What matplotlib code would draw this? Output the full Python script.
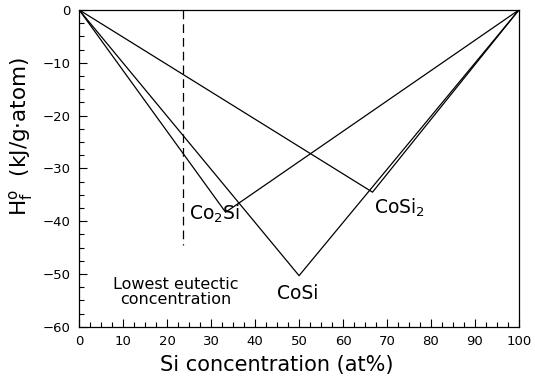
import matplotlib
matplotlib.use("Agg")
import matplotlib.pyplot as plt
from matplotlib.ticker import MultipleLocator

# Enthalpy of formation of cobalt silicides vs. Si content
compounds = ["Co$_2$Si", "CoSi", "CoSi$_2$"]
compound_si = [33.3, 50.0, 66.7]
compound_h = [-38.3, -50.3, -34.5]
eutectic_si = 23.6
eutectic_top, eutectic_bottom = 0, -44.5

plt.rcParams["font.family"] = ["DejaVu Sans"]
fig = plt.figure(figsize=(5.35, 3.81), dpi=100)
ax = fig.add_axes([0.148, 0.142, 0.822, 0.832])

# each compound is joined to the pure elements (0 and 100 at.% Si)
for x, h in zip(compound_si, compound_h):
    ax.plot([0, x, 100], [0, h, 0], color="black", lw=0.9)

ax.plot([eutectic_si, eutectic_si], [eutectic_top, eutectic_bottom],
        color="black", lw=0.9, ls=(0, (7, 4)))

ax.text(25.0, -38.6, compounds[0], fontsize=13.5, va="center", ha="left")
ax.text(49.8, -53.6, compounds[1], fontsize=13.5, va="center", ha="center")
ax.text(67.0, -37.5, compounds[2], fontsize=13.5, va="center", ha="left")
ax.text(22.0, -53.3, "Lowest eutectic\nconcentration", fontsize=11.5,
        va="center", ha="center", linespacing=1.0)

ax.set_xlim(0, 100)
ax.set_ylim(-60, 0)
ax.xaxis.set_major_locator(MultipleLocator(10))
ax.xaxis.set_minor_locator(MultipleLocator(2.5))
ax.yaxis.set_major_locator(MultipleLocator(10))
ax.yaxis.set_minor_locator(MultipleLocator(2.5))
ax.tick_params(which="both", direction="in", top=False, right=False,
               labelsize=9.5, width=0.8)
ax.tick_params(which="major", length=6, pad=6)
ax.tick_params(which="minor", length=3.5)
for s in ax.spines.values():
    s.set_linewidth(0.9)

ax.set_xlabel("Si concentration (at%)", fontsize=15, labelpad=0)
ax.xaxis.set_label_coords(0.45, -0.09, transform=ax.transAxes)
ax.set_ylabel(r"H$_{\rm f}^{\rm o}$  (kJ/g$\cdot$atom)", fontsize=15.5)
ax.yaxis.set_label_coords(-0.10, 0.6)

fig.savefig("out.png", dpi=100)
